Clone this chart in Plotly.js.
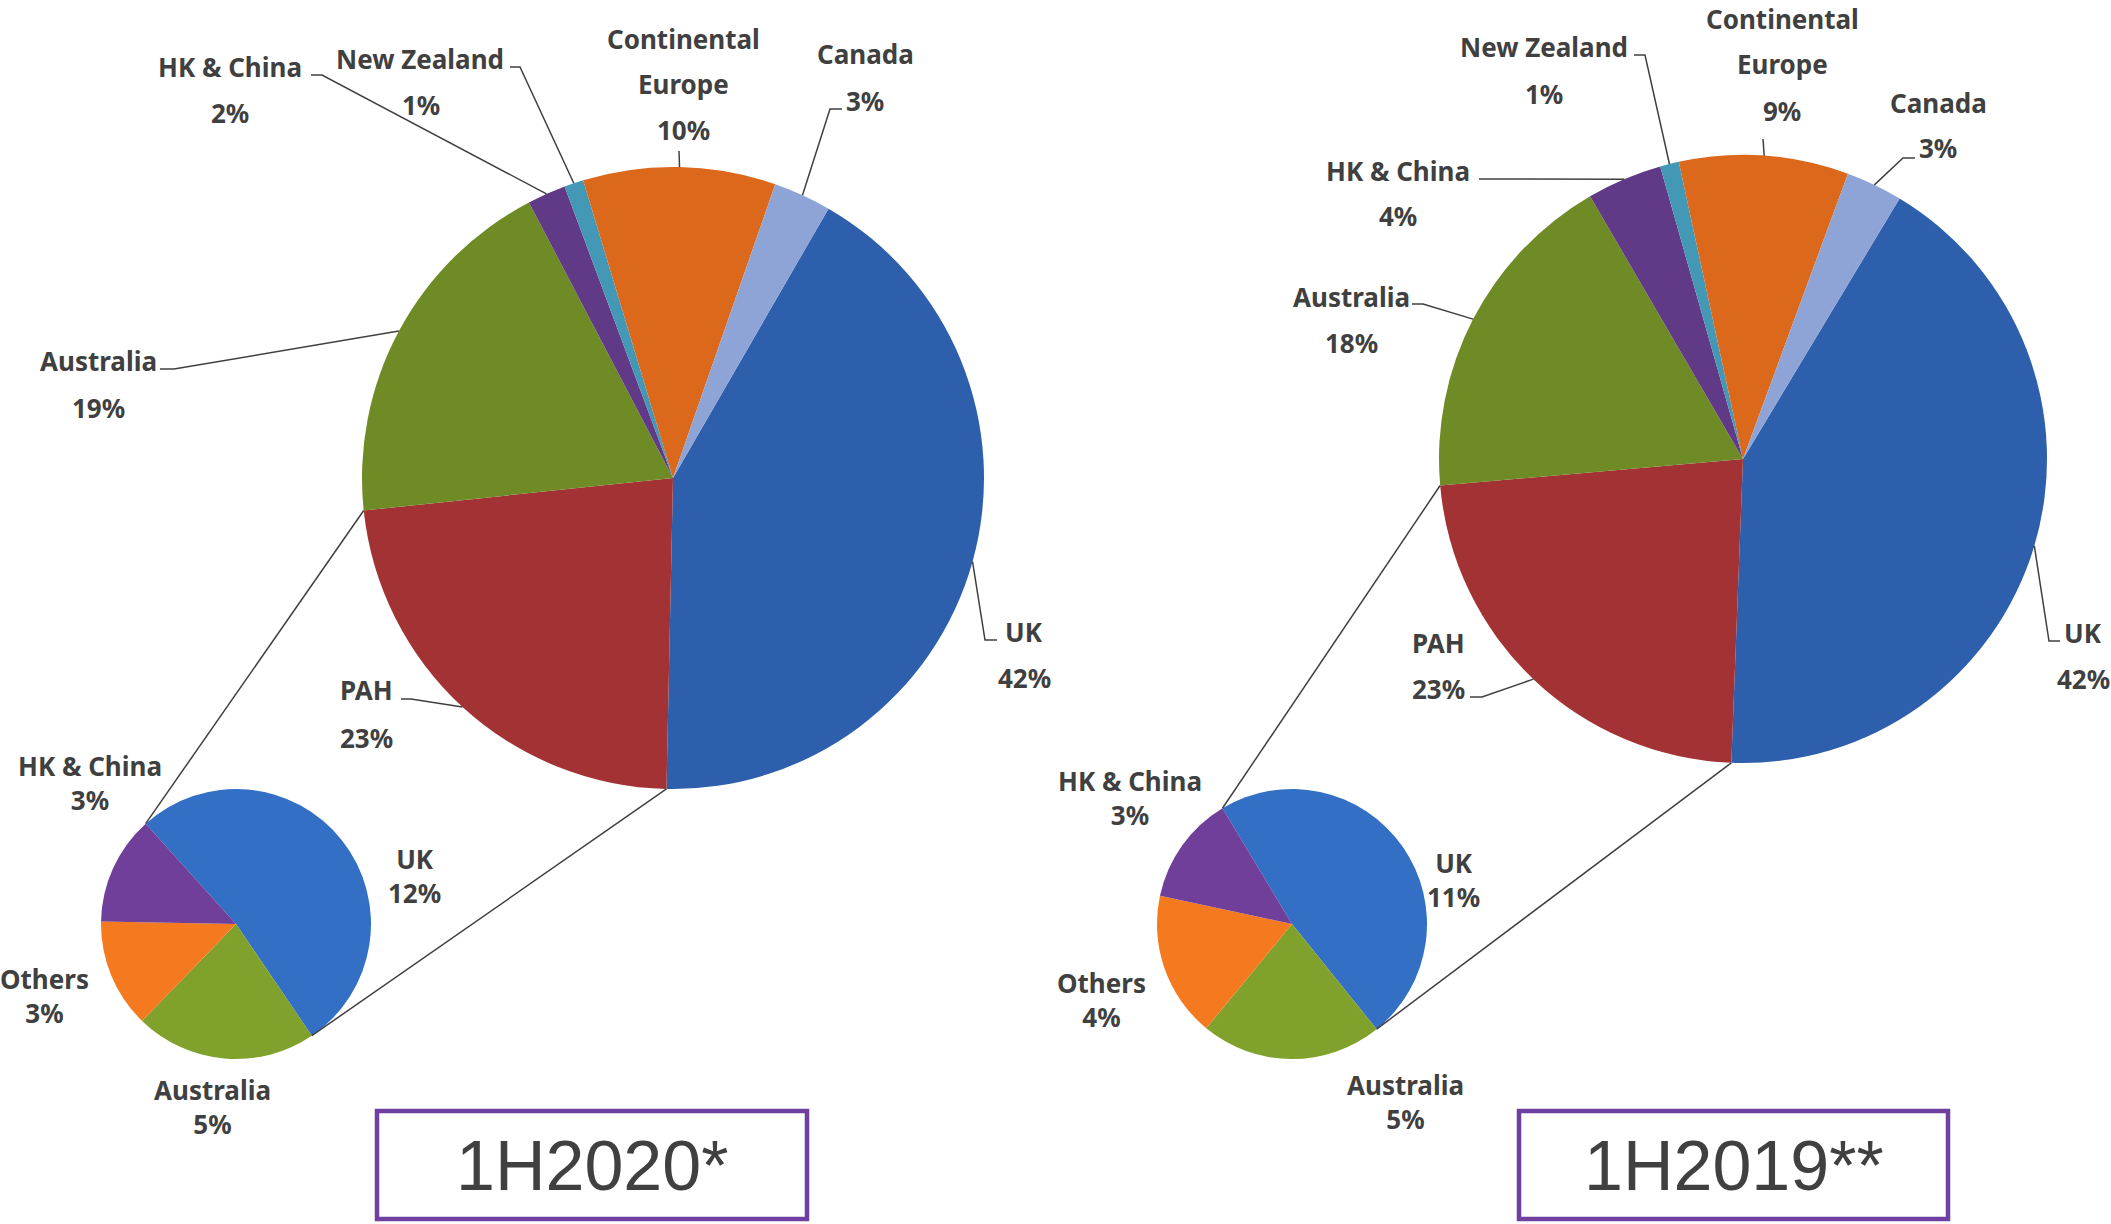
<!DOCTYPE html>
<html>
<head>
<meta charset="utf-8">
<script src="https://cdn.plot.ly/plotly-3.0.1.min.js"></script>
<style>
html,body{margin:0;padding:0;background:#fff;}
#chart{width:2111px;height:1224px;}
</style>
</head>
<body>
<div id="chart"></div>
<script>
// ---------- DATA ----------
const bigLabels = ['UK', 'PAH', 'Australia', 'HK & China', 'New Zealand', 'Continental Europe', 'Canada'];
const big2020 = [42, 23, 19, 2, 1, 10, 3];
const big2019 = [42, 23, 18, 4, 1, 9, 3];
const smallLabels = ['UK', 'Australia', 'Others', 'HK & China'];
const small2020 = [12, 5, 3, 3];
const small2019 = [11, 5, 4, 3];
const periods = ['1H2020*', '1H2019**'];

// ---------- STYLE / LAYOUT ----------
const W = 2111, H = 1224;
const bigColors = ['#2E5FAC', '#A33234', '#6F8B26', '#613A87', '#4399B5', '#DB681B', '#8EA4D6'];
const smallColors = ['#336FC4', '#80A12B', '#F57A1F', '#6F3F99'];
const textColor = '#404040';
const labelFont = {family: 'Noto Sans, sans-serif', size: 26, color: textColor, weight: 'bold'};

// big-pie label placement: name lines position, percent position, leader end and elbow (pixels)
const panels = [
  {
    big: big2020, small: small2020, period: periods[0],
    cx: 673, cy: 478, r: 311, rot: 30,
    scx: 236, scy: 924, sr: 135, srot: 318,
    box: [377, 1111, 807, 1219],
    bigLab: [
      {names: [[1024, 632]], pct: [1024, 678], end: [997, 640], elbow: [985, 640]},
      {names: [[366, 690]], pct: [366, 738], end: [401, 699], elbow: [411, 699]},
      {names: [[98, 361]], pct: [98, 408], end: [160, 369], elbow: [174, 369]},
      {names: [[230, 67]], pct: [230, 113], end: [311, 75], elbow: [322, 75]},
      {names: [[420, 59]], pct: [421, 105], end: [510, 67], elbow: [520, 67]},
      {names: [[683, 39], [683, 84]], pct: [683, 130], end: [679, 151], elbow: [679, 151]},
      {names: [[865, 54]], pct: [865, 101], end: [842, 109], elbow: [830, 109]}
    ],
    // small-pie label centres (two-line block)
    smallLab: [[414, 876], [212, 1107], [44, 996], [90, 783]]
  },
  {
    big: big2019, small: small2019, period: periods[1],
    cx: 1743, cy: 459, r: 304, rot: 31,
    scx: 1292, scy: 924, sr: 135, srot: 329,
    box: [1519, 1111, 1948, 1219],
    bigLab: [
      {names: [[2083, 633]], pct: [2083, 679], end: [2060, 641], elbow: [2049, 641]},
      {names: [[1438, 643]], pct: [1438, 689], end: [1470, 697], elbow: [1482, 697]},
      {names: [[1351, 297]], pct: [1351, 343], end: [1412, 304], elbow: [1423, 304]},
      {names: [[1398, 171]], pct: [1398, 216], end: [1479, 179], elbow: [1479, 179]},
      {names: [[1544, 47]], pct: [1544, 94], end: [1634, 55], elbow: [1645, 55]},
      {names: [[1782, 19], [1782, 64]], pct: [1782, 111], end: [1763, 139], elbow: [1763, 139]},
      {names: [[1938, 103]], pct: [1938, 148], end: [1915, 158], elbow: [1903, 158]}
    ],
    smallLab: [[1453, 880], [1405, 1102], [1101, 1000], [1130, 798]]
  }
];

// ---------- HELPERS ----------
const px = x => x / W;
const py = y => 1 - y / H;
const rad = d => d * Math.PI / 180;
function onCircle(cx, cy, r, deg) {
  return [cx + r * Math.sin(rad(deg)), cy - r * Math.cos(rad(deg))];
}
function domainFor(cx, cy, r) {
  return {x: [px(cx - r), px(cx + r)], y: [py(cy + r), py(cy - r)]};
}
function cumAngles(vals, rot) {
  const tot = vals.reduce((a, b) => a + b, 0);
  const starts = [], mids = [];
  let a = rot;
  vals.forEach(v => {
    starts.push(a);
    mids.push(a + 180 * v / tot);
    a += 360 * v / tot;
  });
  return {starts, mids, end: a};
}
function pathOf(pts) {
  return pts.map((p, i) => (i ? 'L ' : 'M ') + px(p[0]) + ',' + py(p[1])).join(' ');
}
function splitName(name) {
  return name === 'Continental Europe' ? ['Continental', 'Europe'] : [name];
}

// ---------- BUILD ----------
const traces = [], shapes = [], annotations = [];
const ann = (text, x, y, font) => annotations.push({
  text: text, x: px(x), y: py(y), xref: 'paper', yref: 'paper',
  xanchor: 'center', yanchor: 'middle', showarrow: false, font: font || labelFont
});
const lineStyle = {color: '#404040', width: 1.5};

panels.forEach(p => {
  traces.push({
    type: 'pie', labels: bigLabels, values: p.big, sort: false, direction: 'clockwise',
    rotation: p.rot, domain: domainFor(p.cx, p.cy, p.r), textinfo: 'none', hoverinfo: 'label+percent',
    marker: {colors: bigColors, line: {width: 0}}, showlegend: false
  });
  traces.push({
    type: 'pie', labels: smallLabels, values: p.small, sort: false, direction: 'clockwise',
    rotation: p.srot, domain: domainFor(p.scx, p.scy, p.sr), textinfo: 'none', hoverinfo: 'label+percent',
    marker: {colors: smallColors, line: {width: 0}}, showlegend: false
  });

  // big pie labels and leader lines
  const ba = cumAngles(p.big, p.rot);
  bigLabels.forEach((lab, i) => {
    const cfg = p.bigLab[i];
    splitName(lab).forEach((part, k) => ann(part, cfg.names[k][0], cfg.names[k][1]));
    ann(p.big[i] + '%', cfg.pct[0], cfg.pct[1]);
    const tip = onCircle(p.cx, p.cy, p.r, ba.mids[i]);
    shapes.push({type: 'path', xref: 'paper', yref: 'paper', path: pathOf([cfg.end, cfg.elbow, tip]), line: lineStyle, layer: 'above'});
  });

  // small pie labels (name and share in one block)
  smallLabels.forEach((lab, i) => {
    const c = p.smallLab[i];
    ann(lab + '<br>' + p.small[i] + '%', c[0], c[1]);
  });

  // connector lines between PAH slice and the breakdown pie
  const sa = cumAngles(p.small, p.srot);
  const pahStart = ba.starts[1];
  const pahEnd = ba.starts[2];
  const c1a = onCircle(p.cx, p.cy, p.r, pahEnd);
  const c1b = onCircle(p.scx, p.scy, p.sr, sa.starts[0]);
  const c2a = onCircle(p.cx, p.cy, p.r, pahStart);
  const c2b = onCircle(p.scx, p.scy, p.sr, sa.starts[1]);
  shapes.push({type: 'path', xref: 'paper', yref: 'paper', path: pathOf([c1a, c1b]), line: lineStyle});
  shapes.push({type: 'path', xref: 'paper', yref: 'paper', path: pathOf([c2a, c2b]), line: lineStyle});

  // period box
  const b = p.box;
  shapes.push({type: 'rect', xref: 'paper', yref: 'paper', x0: px(b[0]), x1: px(b[2]), y0: py(b[3]), y1: py(b[1]),
    line: {color: '#7040A0', width: 4.5}, fillcolor: 'rgba(0,0,0,0)'});
  ann(p.period, (b[0] + b[2]) / 2, (b[1] + b[3]) / 2 + 1,
    {family: 'Liberation Sans, Arial, sans-serif', size: 70, color: textColor});
});

const layout = {
  width: W, height: H,
  margin: {l: 0, r: 0, t: 0, b: 0, pad: 0},
  paper_bgcolor: '#ffffff', plot_bgcolor: '#ffffff',
  showlegend: false,
  shapes: shapes, annotations: annotations
};

Plotly.newPlot('chart', traces, layout, {displayModeBar: false, staticPlot: true});
</script>
</body>
</html>
